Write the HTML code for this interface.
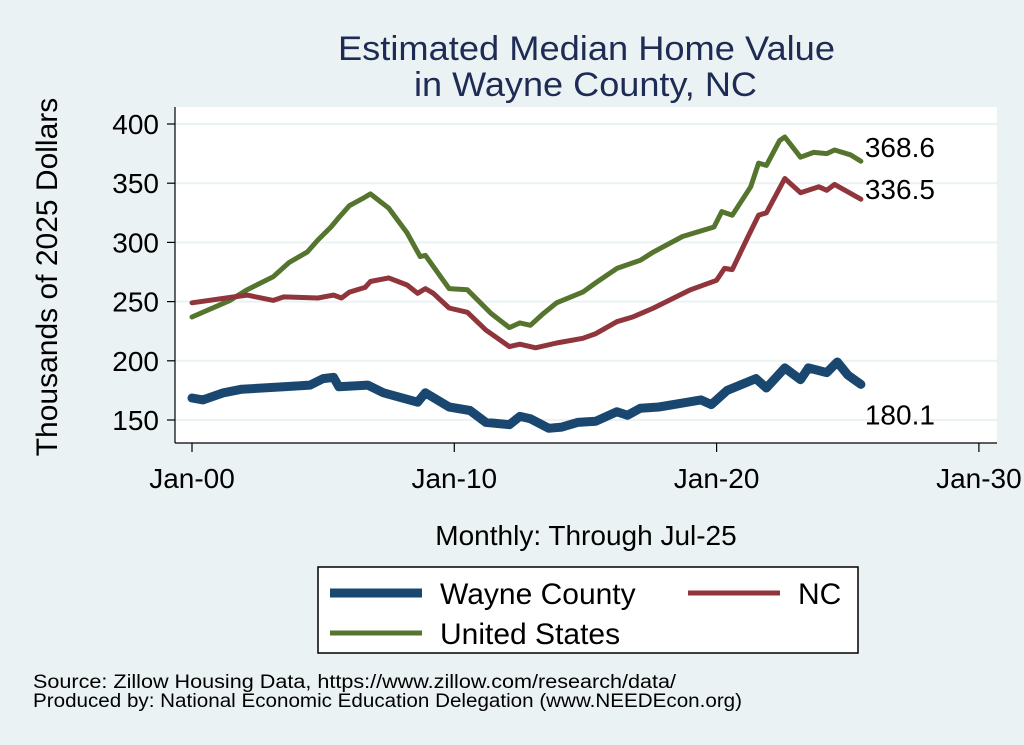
<!DOCTYPE html>
<html><head><meta charset="utf-8"><style>
body{margin:0;background:#eaf2f3;}
svg{display:block;font-family:"Liberation Sans",sans-serif;}
</style></head><body>
<svg id="chart" width="1024" height="745" viewBox="0 0 1024 745">
<rect x="0" y="0" width="1024" height="745" fill="#eaf2f3"/>
<text x="338" y="60" font-size="34" fill="#1e2b54" textLength="497" lengthAdjust="spacingAndGlyphs">Estimated Median Home Value</text>
<text x="414" y="96" font-size="34" fill="#1e2b54" textLength="343" lengthAdjust="spacingAndGlyphs">in Wayne County, NC</text>
<rect x="175" y="107" width="822" height="336" fill="#fff"/>
<g id="grid"></g>
<g id="series"></g>
<g id="axes"></g>
<text transform="translate(57,277) rotate(-90)" font-size="30" text-anchor="middle" fill="#000">Thousands of 2025 Dollars</text>
<text x="586" y="545" font-size="28" text-anchor="middle" fill="#000">Monthly: Through Jul-25</text>
<g>
<rect x="318" y="567" width="540" height="86" fill="#fff" stroke="#000" stroke-width="1.5"/>
<line x1="330" y1="593" x2="422" y2="593" stroke="#1a476f" stroke-width="9"/>
<text x="440" y="604" font-size="30">Wayne County</text>
<line x1="688" y1="593" x2="780" y2="593" stroke="#90353b" stroke-width="5"/>
<text x="798" y="604" font-size="30">NC</text>
<line x1="330" y1="633" x2="422" y2="633" stroke="#55752f" stroke-width="5"/>
<text x="440" y="644" font-size="30">United States</text>
</g>
<text x="33" y="688" font-size="19" textLength="643" lengthAdjust="spacingAndGlyphs">Source: Zillow Housing Data, https://www.zillow.com/research/data/</text>
<text x="33" y="707" font-size="19" textLength="709" lengthAdjust="spacingAndGlyphs">Produced by: National Economic Education Delegation (www.NEEDEcon.org)</text>
</svg>
<script>
const yTicks=[150,200,250,300,350,400];
const xTickYears=[0,10,20,30];
const xTickLabels=["Jan-00","Jan-10","Jan-20","Jan-30"];
const wayneT=[0,0.42,1.2,1.9,3.5,4.5,5.0,5.4,5.6,6.7,7.3,8.6,8.9,9.8,10.6,11.2,12.1,12.5,12.9,13.6,14.1,14.7,15.4,16.2,16.6,17.1,17.8,18.9,19.4,19.8,20.4,20.9,21.5,21.9,22.6,23.2,23.5,24.2,24.6,25.0,25.5];
const wayneV=[168.6,167,173,176,178,179.5,185,186,178,179.5,173,165,173,161,158,148,146,153,151,143,144,148,149,157,154,160,161,165,167,163,175,179.5,185,177,194,184,194,190,199,188,180.1];
const ncT=[0,1.6,2.1,3.1,3.5,4.8,5.4,5.7,6.0,6.6,6.8,7.5,8.2,8.6,8.9,9.2,9.8,10.5,11.2,12.1,12.5,13.1,13.9,14.9,15.4,16.2,16.8,17.6,19.0,20.0,20.3,20.6,21.2,21.6,21.9,22.6,23.2,23.9,24.2,24.5,25.5];
const ncV=[249,254,255.5,251,254,253,255.5,253,258,262,267,270,264,257,261,257,244.6,241,226,212,214,211,215,219,223,233,237,244.6,260,268,278,277,305,323,325,354,342,347,344,349,336.5];
const usT=[0,1.45,2.1,3.1,3.7,4.4,4.8,5.3,5.6,6.0,6.5,6.8,7.5,8.2,8.7,8.9,9.8,10.5,11.4,12.1,12.5,12.9,13.4,13.9,14.9,15.4,16.2,17.1,17.6,18.7,19.9,20.2,20.6,21.3,21.6,21.9,22.4,22.6,23.2,23.7,24.2,24.5,25.1,25.5];
const usV=[237,251,260,271,283,292,302,313,321,331,337,341,329,308,288,289,261,260,240,228,232,230,240,249,258,266,278,285,292,305,313,326,323,347,367,365,386,389,372,376,375,378,374,368.6];
const endLabels=["180.1","336.5","368.6"];

const NS="http://www.w3.org/2000/svg";
const X0=175,X1=997,Y0=107,Y1=443;
function xs(t){return 192+t*26.23;}
function ys(v){return 420-(v-150)*296/250;}
function mk(tag,attrs,parent){const e=document.createElementNS(NS,tag);for(const k in attrs)e.setAttribute(k,attrs[k]);parent.appendChild(e);return e;}
const grid=document.getElementById('grid'),axes=document.getElementById('axes'),series=document.getElementById('series');
yTicks.forEach(v=>{
  const g=mk('line',{x1:X0,x2:X1,y1:ys(v),y2:ys(v),stroke:'#eaf2f3','stroke-width':2},grid);
  
  
  const t=mk('line',{x1:X0-8,x2:X0,y1:ys(v),y2:ys(v),stroke:'#000','stroke-width':1.2},axes);
  
  
  const l=mk('text',{x:X0-16,y:ys(v)+10,'font-size':28,'text-anchor':'end'},axes);
  l.textContent=v;
  
  
});
xTickYears.forEach((y,i)=>{
  const t=mk('line',{x1:xs(y),x2:xs(y),y1:Y1,y2:Y1+9,stroke:'#000','stroke-width':1.2},axes);
  
  
  const l=mk('text',{x:xs(y),y:488,'font-size':28,'text-anchor':'middle'},axes);
  l.textContent=xTickLabels[i];
  
  
});
const ya=mk('line',{x1:X0,x2:X0,y1:Y0,y2:Y1,stroke:'#000','stroke-width':1.2},axes);


const xa=mk('line',{x1:X0,x2:X1,y1:Y1,y2:Y1,stroke:'#000','stroke-width':1.2},axes);


function drawLine(T,V,color,w,name){
  const d=T.map((t,i)=>(i?'L':'M')+xs(t).toFixed(1)+','+ys(V[i]).toFixed(1)).join('');
  const p=mk('path',{d:d,fill:'none',stroke:color,'stroke-width':w,'stroke-linejoin':'round','stroke-linecap':'round'},series);
  
  
}
drawLine(usT,usV,'#55752f',5,'line-united-states');
drawLine(ncT,ncV,'#90353b',5,'line-nc');
drawLine(wayneT,wayneV,'#1a476f',9,'line-wayne-county');
const lastW=wayneT[wayneT.length-1],lastN=ncT[ncT.length-1],lastU=usT[usT.length-1];
[[lastW,wayneV[wayneV.length-1],endLabels[0],40,'end-label-wayne'],[lastN,ncV[ncV.length-1],endLabels[1],0,'end-label-nc'],[lastU,usV[usV.length-1],endLabels[2],-4,'end-label-us']].forEach(a=>{
  const l=mk('text',{x:xs(a[0])+4,y:ys(a[1])+a[3],'font-size':28},series);
  l.textContent=a[2];
  
  
});
</script>
</body></html>
